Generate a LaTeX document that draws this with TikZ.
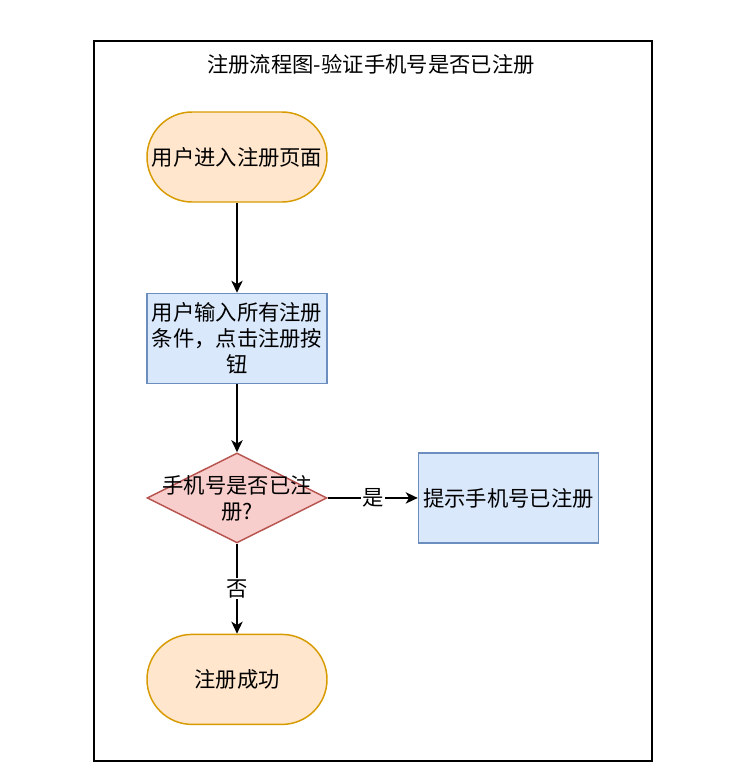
\documentclass[tikz,border=0pt]{standalone}
\usepackage{fontspec}
\newfontfamily\cjk{Noto Sans CJK SC}
\usepackage{tikz}
\usetikzlibrary{positioning}
\usetikzlibrary{arrows.meta, shapes.geometric}

\definecolor{termfill}{HTML}{FFE6CC}
\definecolor{termline}{HTML}{D79B00}
\definecolor{procfill}{HTML}{DAE8FC}
\definecolor{procline}{HTML}{6C8EBF}
\definecolor{decfill}{HTML}{F8CECC}
\definecolor{decline}{HTML}{B85450}

\begin{document}
\begin{tikzpicture}[
            > = {Stealth[length=9pt, width=8.5pt, inset=2.5pt]}, % arrow head style
            line width = 1.1pt, % line style
            node distance = 67.5pt, % distance between nodes
            font = \cjk\fontsize{16}{19.5}\selectfont
        ]

        \tikzstyle{terminal}=[
            draw = termline,
            fill = termfill,
            rounded corners = 33.75pt,
            minimum width = 135pt,
            minimum height = 67.5pt
        ]
        \tikzstyle{process}=[
            draw = procline,
            fill = procfill,
            align = center,
            inner sep = 2pt,
            minimum width = 135pt,
            minimum height = 67.5pt
        ]
        \tikzstyle{decision}=[
            diamond,
            draw = decline,
            fill = decfill,
            aspect = 2,
            inner sep = 0pt,
            minimum width = 135pt,
            minimum height = 67.5pt
        ]

        \useasboundingbox (0,0) rectangle (547.5pt,-584.25pt);

        % outer frame and title
        \node[draw, line width=1.5pt, minimum width=418.5pt, minimum height=540pt, anchor=north west] (frame) at (69.75pt,-30pt) {};
        \node (title) at (278.25pt,-48pt) {注册流程图-验证手机号是否已注册};

        \node[terminal] (start) at (177.75pt,-117.75pt) {用户进入注册页面};
        \node[process] (input) [below=of start] {用户输入所有注册\\条件，点击注册按\\钮};
        \node[decision, label={[align=center]center:手机号是否已注\\册?}] (check) [below=51pt of input] {};
        \node[process] (tip) [right=of check] {提示手机号已注册};
        \node[terminal] (done) [below=of check] {注册成功};

        \path[->]
            (start)  edge  (input)
            (input)  edge  (check)
            (check)  edge  node[fill=white, inner sep=1pt] {是}  (tip)
            (check)  edge  node[fill=white, inner sep=1pt] {否}  (done);

\end{tikzpicture}
\end{document}
